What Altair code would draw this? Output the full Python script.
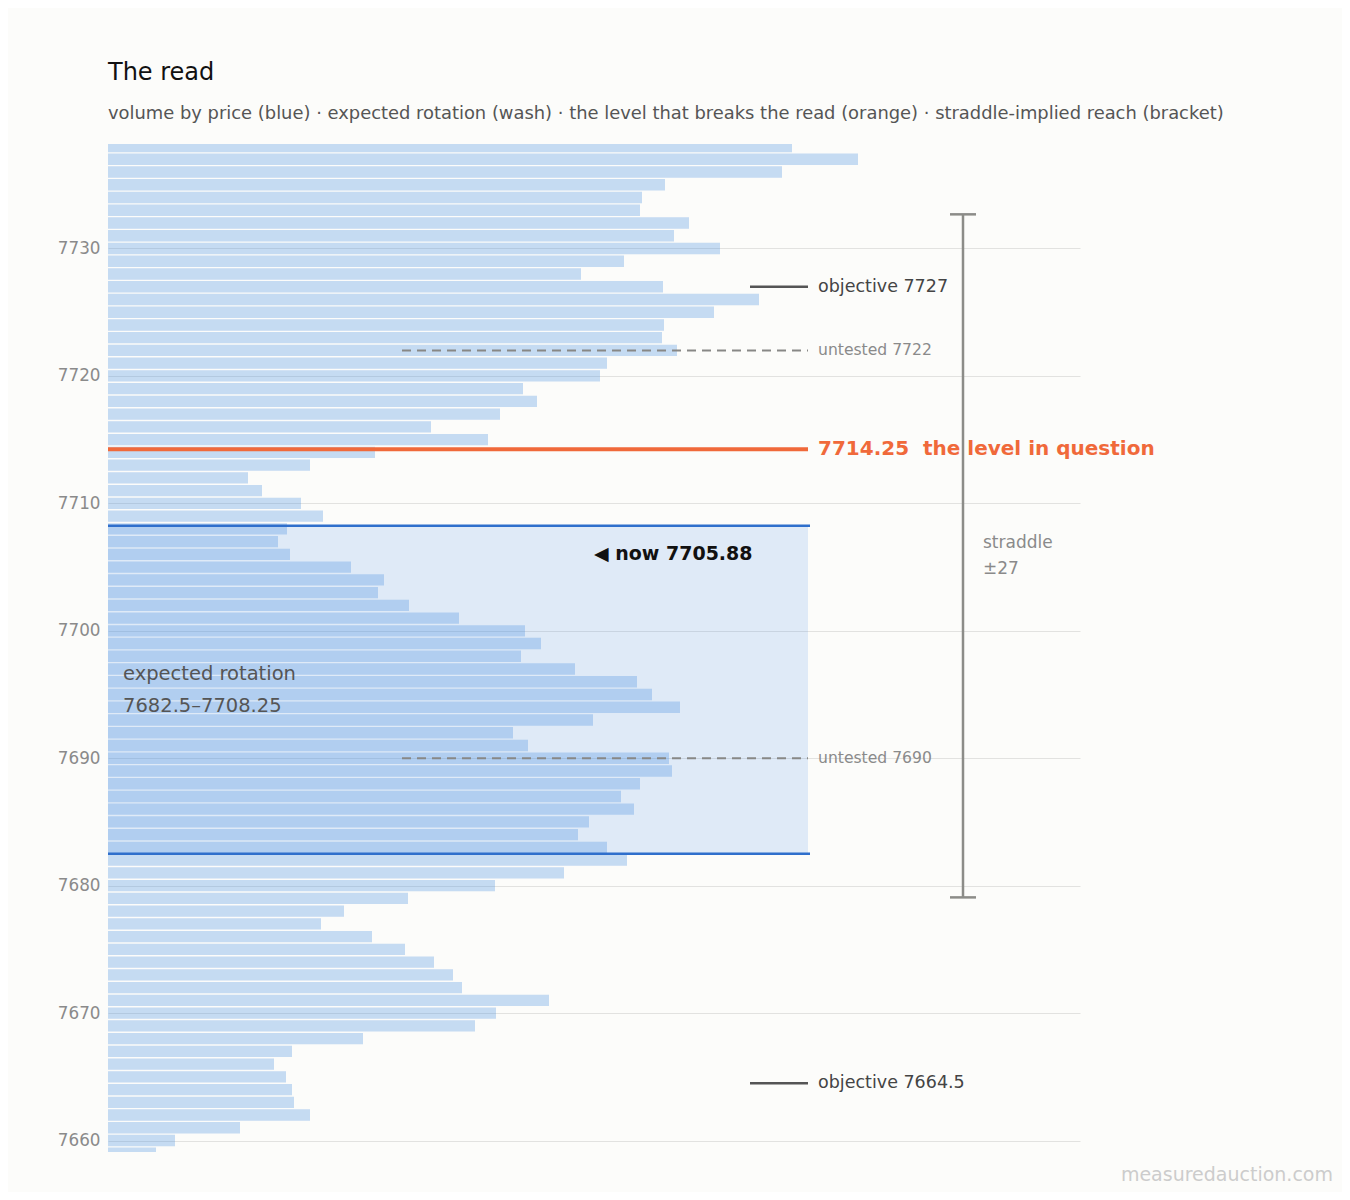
import altair as alt
import pandas as pd

# ---- data ----
prices = list(range(7738, 7658, -1))
volume = [
    684, 750, 674, 557, 534, 532, 581, 566, 612, 516,
    473, 555, 651, 606, 556, 554, 569, 499, 492, 415,
    429, 392, 323, 380, 267, 202, 140, 154, 193, 215,
    179, 170, 182, 243, 276, 270, 301, 351, 417, 433,
    413, 467, 529, 544, 572, 485, 405, 420, 561, 564,
    532, 513, 526, 481, 470, 499, 519, 456, 387, 300,
    236, 213, 264, 297, 326, 345, 354, 441, 388, 367,
    255, 184, 166, 178, 184, 186, 202, 132, 67, 48,
]
objectives = [7727, 7664.5]
untested = [7722, 7690]
break_level = 7714.25
now_price = 7705.88
rotation_lo, rotation_hi = 7682.5, 7708.25
straddle_move = 26.8
straddle_label = "±27"
tick_values = [7660, 7670, 7680, 7690, 7700, 7710, 7720, 7730]

title_text = "The read"
subtitle_text = ("volume by price (blue) · expected rotation (wash) · the level that breaks "
                 "the read (orange) · straddle-implied reach (bracket)")
watermark = "measuredauction.com"

W, H = 972, 1008
FONT = "DejaVu Sans"

y_scale = alt.Scale(domain=[7659.1, 7738.2], nice=False, zero=False)
y_axis = alt.Axis(values=tick_values, format="d", grid=True, ticks=False, domain=False,
                  labelPadding=8, labelFontSize=16.8, labelColor="#8a8a8a", title=None,
                  gridColor="#e2e2e0", gridWidth=1.2)


def Y(field):
    return alt.Y(field, type="quantitative", scale=y_scale, axis=y_axis)


bars_df = pd.DataFrame({"price": prices, "vol": volume})

bars = alt.Chart(bars_df).transform_calculate(
    lo="datum.price - 0.445", hi="datum.price + 0.445"
).mark_bar(color="#4a90e2", opacity=0.31, clip=True).encode(
    y=Y("lo"),
    y2="hi:Q",
    x=alt.X("vol:Q", scale=alt.Scale(domain=[0, W]), axis=None),
    x2=alt.datum(0),
)

rot_df = pd.DataFrame({"lo": [rotation_lo], "hi": [rotation_hi],
                       "mid": [(rotation_lo + rotation_hi) / 2],
                       "label": [f"expected rotation\n{rotation_lo:g}–{rotation_hi:g}"]})

wash = alt.Chart(rot_df).mark_rect(color="#3f88e8", opacity=0.15).encode(
    y=Y("lo"), y2="hi:Q", x=alt.value(0), x2=alt.value(700)
)

edge_df = pd.DataFrame({"p": [rotation_lo, rotation_hi]})
edges = alt.Chart(edge_df).mark_rule(color="#2f6fcc", strokeWidth=2.5).encode(
    y=Y("p"), x=alt.value(0), x2=alt.value(702)
)

unt_df = pd.DataFrame({"p": untested, "label": [f"untested {v:g}" for v in untested]})
unt_lines = alt.Chart(unt_df).mark_rule(color="#888886", strokeWidth=2, strokeDash=[9, 6]).encode(
    y=Y("p"), x=alt.value(294), x2=alt.value(700)
)
unt_text = alt.Chart(unt_df).mark_text(align="left", baseline="middle", fontSize=15.6,
                                       color="#8a8a8a").encode(
    y=Y("p"), x=alt.value(710), text="label:N"
)

brk_df = pd.DataFrame({"p": [break_level],
                       "label": [f"{break_level}\u00a0 the level in question"]})
brk_line = alt.Chart(brk_df).mark_rule(color="#f0693a", strokeWidth=4).encode(
    y=Y("p"), x=alt.value(0), x2=alt.value(700)
)
brk_text = alt.Chart(brk_df).mark_text(align="left", baseline="middle", fontSize=20,
                                       fontWeight="bold", color="#f0693a").encode(
    y=Y("p"), x=alt.value(710), text="label:N"
)

obj_df = pd.DataFrame({"p": objectives, "label": [f"objective {v:g}" for v in objectives]})
obj_lines = alt.Chart(obj_df).mark_rule(color="#555555", strokeWidth=2.5).encode(
    y=Y("p"), x=alt.value(642), x2=alt.value(700)
)
obj_text = alt.Chart(obj_df).mark_text(align="left", baseline="middle", fontSize=17.5,
                                       color="#444444").encode(
    y=Y("p"), x=alt.value(710), text="label:N"
)

now_df = pd.DataFrame({"p": [now_price], "label": [f"◀ now {now_price}"]})
now_text = alt.Chart(now_df).mark_text(align="left", baseline="middle", fontSize=19,
                                       fontWeight="bold", color="#111111", dy=-2).encode(
    y=Y("p"), x=alt.value(486), text="label:N"
)

br_df = pd.DataFrame({"lo": [now_price - straddle_move], "hi": [now_price + straddle_move],
                      "p": [now_price], "label": [f"straddle\n{straddle_label}"]})
caps_df = pd.DataFrame({"p": [now_price - straddle_move, now_price + straddle_move]})
bracket = alt.Chart(br_df).mark_rule(color="#8c8c88", strokeWidth=2.5).encode(
    y=Y("lo"), y2="hi:Q", x=alt.value(855)
)
caps = alt.Chart(caps_df).mark_rule(color="#8c8c88", strokeWidth=2.5).encode(
    y=Y("p"), x=alt.value(842), x2=alt.value(868)
)
br_text = alt.Chart(br_df).mark_text(align="left", baseline="middle", fontSize=17,
                                     color="#8a8a8a", lineBreak="\n", lineHeight=26,
                                     dy=-13).encode(
    y=Y("p"), x=alt.value(875), text="label:N"
)

rot_text = alt.Chart(rot_df).mark_text(align="left", baseline="middle", fontSize=19.5,
                                       color="#555555", lineBreak="\n", lineHeight=32,
                                       dy=-16).encode(
    y=Y("mid"), x=alt.value(15), text="label:N"
)

txt_df = pd.DataFrame({"t": [title_text], "s": [subtitle_text], "w": [watermark]})
title = alt.Chart(txt_df).mark_text(align="left", baseline="middle", fontSize=24,
                                    color="#111111").encode(
    x=alt.value(0), y=alt.value(-71), text="t:N"
)
subtitle = alt.Chart(txt_df).mark_text(align="left", baseline="middle", fontSize=17.9,
                                       color="#555555").encode(
    x=alt.value(0), y=alt.value(-30), text="s:N"
)
wm = alt.Chart(txt_df).mark_text(align="right", baseline="middle", fontSize=19,
                                 color="#cccccc").encode(
    x=alt.value(1225), y=alt.value(1031), text="w:N"
)

chart = alt.layer(
    wash, bars, edges, unt_lines, brk_line, obj_lines, bracket, caps,
    unt_text, brk_text, obj_text, now_text, br_text, rot_text, title, subtitle, wm,
).properties(
    width=W, height=H,
    padding={"left": 100, "top": 136, "right": 262, "bottom": 40},
    autosize=alt.AutoSizeParams(type="none"),
    background="#fcfcfa",
).configure(font=FONT).configure_view(strokeWidth=0, stroke="transparent")

chart.save("out.html", embed_options={"renderer": "svg", "actions": False})
